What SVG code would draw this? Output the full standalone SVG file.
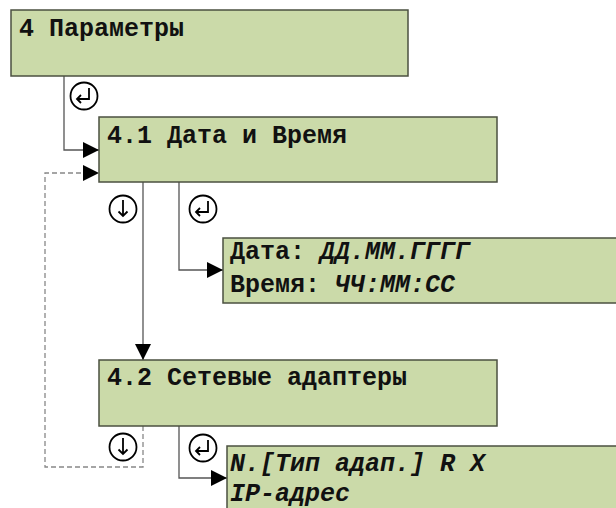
<svg xmlns="http://www.w3.org/2000/svg" width="616" height="508" viewBox="0 0 616 508">
<defs>
<style>
.box{fill:#cbdaa9;stroke:#4b5040;stroke-width:1.5}
.t{font-family:"Liberation Mono","Courier New",monospace;font-weight:bold;font-size:25px;fill:#111}
.i{font-style:italic}
.ln{fill:none;stroke:#555;stroke-width:1.3}
.dash{fill:none;stroke:#888;stroke-width:1.3;stroke-dasharray:5,3}
.ic{fill:#fff;stroke:#000;stroke-width:1.8}
.ig{fill:none;stroke:#000;stroke-width:1.8;stroke-linejoin:miter}
</style>
<marker id="ah" markerWidth="16" markerHeight="16" viewBox="0 0 16 16" refX="16" refY="8" orient="auto" markerUnits="userSpaceOnUse">
<path d="M0,0 L16,8 L0,16 Z" fill="#000"/>
</marker>
<g id="enter">
<circle class="ic" cx="0" cy="0" r="13.5"/>
<path class="ig" d="M5,-8 V3 H-7 M-3,-1 L-7,3 L-3,7"/>
</g>
<g id="down">
<circle class="ic" cx="0" cy="0" r="13.5"/>
<path class="ig" d="M0,-9 V7 M-4.5,2.5 L0,7 L4.5,2.5"/>
</g>
</defs>
<rect width="616" height="508" fill="#fff"/>
<g id="connectors">
<path class="ln" d="M64,76 V150 H99" marker-end="url(#ah)"/>
<path class="ln" d="M143,182 V360" marker-end="url(#ah)"/>
<path class="ln" d="M179,182 V270 H223" marker-end="url(#ah)"/>
<path class="ln" d="M179,426 V478 H227" marker-end="url(#ah)"/>
<path class="dash" d="M143,426 V467 H45 V173 H83"/>
<path d="M83,165 L99,173 L83,181 Z" fill="#000"/>
<use href="#enter" x="84" y="96"/>
<use href="#down" x="123" y="209"/>
<use href="#enter" x="203" y="209"/>
<use href="#down" x="123" y="447"/>
<use href="#enter" x="203" y="448"/>
</g>
<g id="n4">
<rect class="box" x="11" y="10" width="397" height="66"/>
<text class="t" x="19" y="36">4 Параметры</text>
</g>
<g id="n41">
<rect class="box" x="99" y="117" width="398" height="65"/>
<text class="t" x="107" y="143">4.1 Дата и Время</text>
</g>
<g id="n41v">
<rect class="box" x="223" y="238" width="400" height="65"/>
<text class="t" x="230" y="259">Дата: <tspan class="i">ДД.ММ.ГГГГ</tspan></text>
<text class="t" x="230" y="292">Время: <tspan class="i">ЧЧ:ММ:СС</tspan></text>
</g>
<g id="n42">
<rect class="box" x="99" y="360" width="398" height="66"/>
<text class="t" x="107" y="385">4.2 Сетевые адаптеры</text>
</g>
<g id="n42v">
<rect class="box" x="227" y="446" width="400" height="70"/>
<text class="t i" x="230" y="471">N.[Тип адап.] R X</text>
<text class="t i" x="230" y="501">IP-адрес</text>
</g>
</svg>
